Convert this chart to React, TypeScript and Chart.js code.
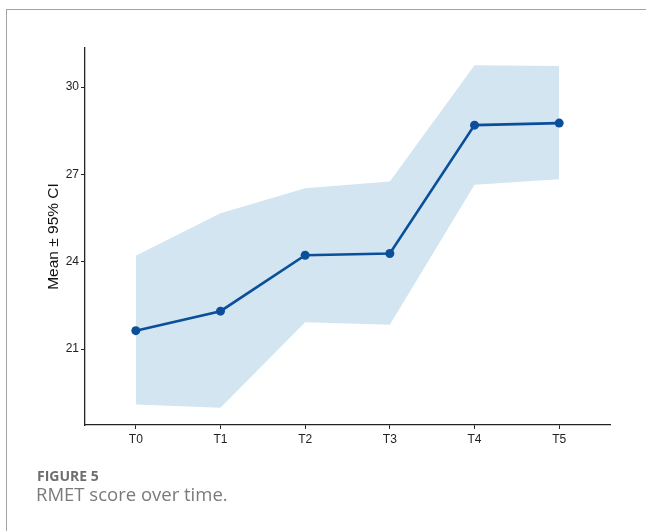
import React, { useEffect, useRef } from "react";
import { Chart, registerables } from "chart.js";

Chart.register(...registerables);

const timepoints = ["T0", "T1", "T2", "T3", "T4", "T5"];
const meanValues = [21.63, 22.3, 24.22, 24.28, 28.69, 28.76];
const upperCI = [24.2, 25.66, 26.52, 26.75, 30.75, 30.72];
const lowerCI = [19.09, 18.98, 21.92, 21.83, 26.64, 26.83];
const yTicks = [21, 24, 27, 30];

const W = 646;
const H = 531;

export default function App() {
  const ref = useRef<HTMLCanvasElement | null>(null);

  useEffect(() => {
    if (!ref.current) return;
    const pts = (arr: number[]) => arr.map((v, i) => ({ x: i, y: v }));
    const tickFont = { family: "'Liberation Sans', Arial, sans-serif", size: 12 };
    const chart = new Chart(ref.current, {
      type: "line",
      data: {
        datasets: [
          {
            label: "upper",
            data: pts(upperCI),
            borderWidth: 0,
            pointRadius: 0,
            backgroundColor: "#d3e5f1",
            fill: "+1",
            tension: 0,
            order: 2,
          },
          {
            label: "lower",
            data: pts(lowerCI),
            borderWidth: 0,
            pointRadius: 0,
            backgroundColor: "#d3e5f1",
            fill: false,
            tension: 0,
            order: 2,
          },
          {
            label: "mean",
            data: pts(meanValues),
            borderColor: "#0b4f9b",
            backgroundColor: "#0b4f9b",
            borderWidth: 2.6,
            pointRadius: 4.5,
            pointBorderWidth: 0,
            pointBackgroundColor: "#0b4f9b",
            fill: false,
            tension: 0,
            order: 0,
          },
        ],
      },
      options: {
        animation: false,
        responsive: false,
        maintainAspectRatio: false,
        layout: { padding: { left: 0, right: 36, top: 48, bottom: 76 } },
        plugins: {
          legend: { display: false },
          tooltip: { enabled: false },
          title: { display: false },
          filler: { drawTime: "beforeDatasetsDraw" },
        },
        scales: {
          x: {
            type: "linear",
            min: -0.6,
            max: 5.6,
            afterBuildTicks: (scale: any) => {
              scale.ticks = timepoints.map((_, i) => ({ value: i }));
            },
            afterFit: (scale: any) => {
              scale.height = 30;
            },
            ticks: {
              autoSkip: false,
              maxRotation: 0,
              padding: 3,
              color: "#222222",
              font: tickFont,
              callback: (v: any) => timepoints[Math.round(Number(v))] ?? "",
            },
            grid: {
              drawOnChartArea: false,
              drawTicks: true,
              tickLength: 4,
              color: "#222222",
              lineWidth: 1,
            },
            border: { display: true, color: "#222222", width: 1.3 },
          },
          y: {
            type: "linear",
            min: 18.39,
            max: 31.34,
            afterBuildTicks: (scale: any) => {
              scale.ticks = yTicks.map((v) => ({ value: v }));
            },
            afterFit: (scale: any) => {
              scale.width = 85;
            },
            ticks: {
              padding: 2,
              color: "#222222",
              font: tickFont,
              callback: (v: any) => String(v),
            },
            grid: {
              drawOnChartArea: false,
              drawTicks: true,
              tickLength: 4,
              color: "#222222",
              lineWidth: 1,
            },
            border: { display: true, color: "#222222", width: 1.3 },
            title: {
              display: true,
              text: "Mean ± 95% CI",
              color: "#111111",
              font: { family: "'Liberation Sans', Arial, sans-serif", size: 15.5 },
              padding: { top: 44, bottom: 0 },
            },
          },
        },
      },
    });
    return () => chart.destroy();
  }, []);

  return (
    <div
      style={{
        position: "fixed",
        left: 0,
        top: 0,
        width: W,
        height: H,
        background: "#ffffff",
        overflow: "hidden",
      }}
    >
      <div
        style={{
          position: "absolute",
          left: 6,
          top: 9,
          width: W,
          height: H,
          borderTop: "1.5px solid #a3a3a3",
          borderLeft: "1.5px solid #a3a3a3",
        }}
      />
      <canvas
        ref={ref}
        width={W}
        height={H}
        style={{ position: "absolute", left: 0, top: 0, width: W, height: H }}
      />
      <div
        style={{
          position: "absolute",
          left: 37,
          top: 466,
          fontFamily: "'Open Sans', sans-serif",
          fontWeight: 700,
          fontSize: 14,
          color: "#6e6e6e",
          whiteSpace: "nowrap",
        }}
      >
        FIGURE 5
      </div>
      <div
        style={{
          position: "absolute",
          left: 36,
          top: 481,
          fontFamily: "'Open Sans', sans-serif",
          fontWeight: 400,
          fontSize: 18.5,
          color: "#7a7a7a",
          whiteSpace: "nowrap",
        }}
      >
        RMET score over time.
      </div>
    </div>
  );
}
